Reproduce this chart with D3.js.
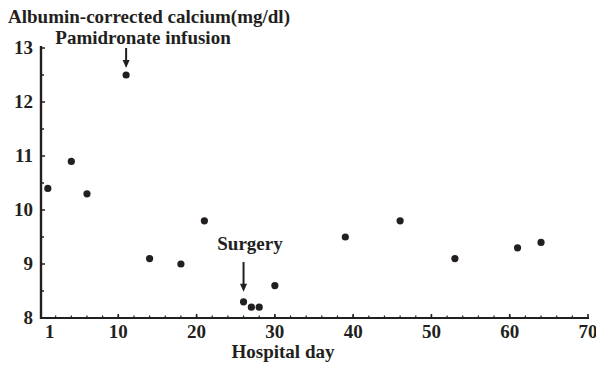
<!DOCTYPE html>
<html><head><meta charset="utf-8">
<script src="https://cdn.jsdelivr.net/npm/d3@7"></script>
<style>body{margin:0;background:#fff}svg{display:block}text{font-family:"Liberation Serif","Times New Roman",serif;font-weight:bold;fill:#231f20}</style>
</head><body>
<script>
const days = [1, 4, 6, 11, 14, 18, 21, 26, 27, 28, 30, 39, 46, 53, 61, 64];
const calcium = [10.4, 10.9, 10.3, 12.5, 9.1, 9.0, 9.8, 8.3, 8.2, 8.2, 8.6, 9.5, 9.8, 9.1, 9.3, 9.4];
const xTicks = [1, 10, 20, 30, 40, 50, 60, 70];
const yTicks = [8, 9, 10, 11, 12, 13];
const annotations = [{label: "Pamidronate infusion", day: 11, value: 12.5}, {label: "Surgery", day: 26, value: 8.3}];

const W = 596, H = 366;
const svg = d3.select("body").append("svg").attr("width", W).attr("height", H);
const x = d3.scaleLinear().domain([0, 70]).range([40, 588]);
const y = d3.scaleLinear().domain([8, 13]).range([318, 48]);
const ink = "#231f20";

// axes lines
svg.append("line").attr("x1", x(0)+1).attr("x2", x(0)+1).attr("y1", y(13)-2).attr("y2", y(8)+1).attr("stroke", ink).attr("stroke-width", 2.4);
svg.append("line").attr("x1", x(0)).attr("x2", x(70)+1).attr("y1", y(8)).attr("y2", y(8)).attr("stroke", ink).attr("stroke-width", 2.2);

// y ticks
const yMinor = d3.range(8, 13.01, 0.5);
svg.append("g").selectAll("line").data(yMinor).join("line")
  .attr("x1", x(0)+1).attr("x2", d => x(0) + (Number.isInteger(d) ? 5 : 4))
  .attr("y1", d => y(d)).attr("y2", d => y(d)).attr("stroke", ink).attr("stroke-width", 1.5);
svg.append("g").selectAll("text").data(yTicks).join("text")
  .attr("x", 33).attr("y", d => y(d) + 6).attr("text-anchor", "end").attr("font-size", 19).text(d => d);

// x ticks
const xMinor = d3.range(2, 70, 2);
svg.append("g").selectAll("line").data(xMinor).join("line")
  .attr("x1", d => x(d)).attr("x2", d => x(d)).attr("y1", y(8)).attr("y2", y(8) - 2.5).attr("stroke", ink).attr("stroke-width", 1.2);
svg.append("g").selectAll("line").data(xTicks.slice(1)).join("line")
  .attr("x1", d => x(d)).attr("x2", d => x(d)).attr("y1", y(8)).attr("y2", y(8) - 4).attr("stroke", ink).attr("stroke-width", 1.6);
svg.append("g").selectAll("text").data(xTicks).join("text")
  .attr("x", d => x(d) + (d === 1 ? 2 : 0)).attr("y", 338).attr("text-anchor", "middle").attr("font-size", 19).text(d => d);

// titles
svg.append("text").attr("x", 8).attr("y", 23).attr("font-size", 19).text("Albumin-corrected calcium(mg/dl)");
svg.append("text").attr("x", 283).attr("y", 358).attr("text-anchor", "middle").attr("font-size", 19).text("Hospital day");

// points
svg.append("g").selectAll("circle").data(days.map((d, i) => [d, calcium[i]])).join("circle")
  .attr("cx", d => x(d[0])).attr("cy", d => y(d[1])).attr("r", 3.6).attr("fill", ink);

// annotations
const a0 = annotations[0], a1 = annotations[1];
svg.append("text").attr("x", 143).attr("y", 44).attr("text-anchor", "middle").attr("font-size", 19).text(a0.label);
svg.append("text").attr("x", 250).attr("y", 250).attr("text-anchor", "middle").attr("font-size", 19).text(a1.label);
function arrow(cx, y1, y2) {
  svg.append("line").attr("x1", cx).attr("x2", cx).attr("y1", y1).attr("y2", y2 - 6).attr("stroke", ink).attr("stroke-width", 2);
  svg.append("path").attr("d", `M${cx-3.5},${y2-8} L${cx+3.5},${y2-8} L${cx},${y2} Z`).attr("fill", ink);
}
arrow(x(a0.day), 48, y(a0.value) - 7);
arrow(x(a1.day), 262, y(a1.value) - 10);
</script>
</body></html>
